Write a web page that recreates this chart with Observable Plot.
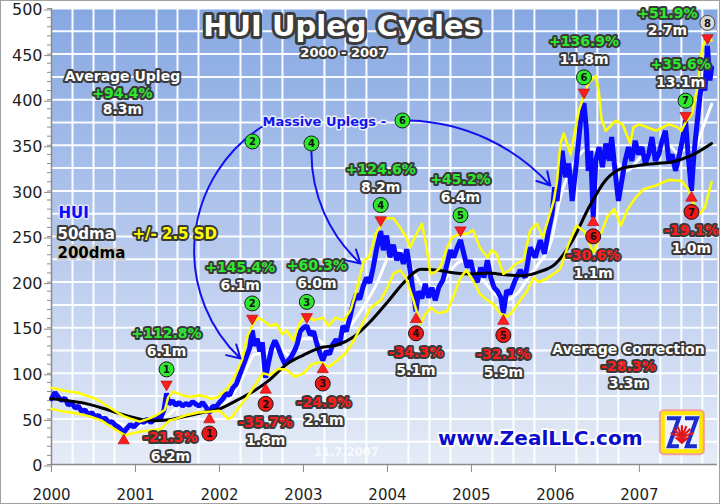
<!DOCTYPE html>
<html><head><meta charset="utf-8">
<script src="https://cdn.jsdelivr.net/npm/d3@7"></script>
<script src="https://cdn.jsdelivr.net/npm/@observablehq/plot@0.6"></script>
<style>
body{margin:0;background:#fff}
#chart{width:720px;height:504px;outline:1px solid #a0a0a0;outline-offset:-1px;overflow:hidden}
</style>
</head><body><div id="chart"></div>
<script>
// ---------------- DATA ----------------
const huiDates = [2000.00,2000.04,2000.08,2000.12,2000.16,2000.20,2000.24,2000.28,2000.32,2000.36,2000.40,2000.44,2000.48,2000.52,2000.56,2000.60,2000.64,2000.68,2000.72,2000.76,2000.80,2000.84,2000.86,2000.90,2000.94,2000.98,
2001.02,2001.06,2001.10,2001.14,2001.18,2001.22,2001.26,2001.30,2001.34,2001.37,2001.40,2001.44,2001.48,2001.52,2001.56,2001.60,2001.64,2001.68,2001.72,2001.76,2001.80,2001.84,2001.88,2001.92,2001.96,
2002.00,2002.04,2002.08,2002.12,2002.16,2002.20,2002.24,2002.28,2002.32,2002.36,2002.39,2002.42,2002.45,2002.48,2002.51,2002.55,2002.58,2002.62,2002.66,2002.70,2002.74,2002.78,2002.82,2002.86,2002.90,2002.93,2002.96,
2003.00,2003.04,2003.08,2003.12,2003.16,2003.20,2003.23,2003.27,2003.31,2003.35,2003.39,2003.43,2003.47,2003.51,2003.55,2003.59,2003.63,2003.67,2003.71,2003.75,2003.79,2003.83,2003.87,2003.92,2003.95,2003.99,
2004.03,2004.07,2004.11,2004.15,2004.19,2004.23,2004.27,2004.30,2004.34,2004.37,2004.41,2004.45,2004.49,2004.53,2004.57,2004.61,2004.66,2004.71,2004.75,2004.79,2004.83,2004.87,2004.91,2004.95,2004.99,
2005.03,2005.07,2005.11,2005.15,2005.19,2005.23,2005.27,2005.31,2005.35,2005.38,2005.42,2005.46,2005.52,2005.58,2005.64,2005.70,2005.76,2005.82,2005.87,2005.92,2005.96,2005.99,
2006.02,2006.05,2006.08,2006.12,2006.16,2006.20,2006.24,2006.28,2006.31,2006.34,2006.37,2006.39,2006.42,2006.45,2006.48,2006.52,2006.56,2006.60,2006.64,2006.67,2006.71,2006.75,2006.79,2006.83,2006.87,2006.91,2006.95,2006.99,
2007.03,2007.07,2007.11,2007.15,2007.19,2007.23,2007.27,2007.31,2007.35,2007.39,2007.43,2007.47,2007.51,2007.55,2007.58,2007.62,2007.65,2007.69,2007.72,2007.75,2007.78,2007.81,2007.84,2007.86];
const huiValues = [72,79,74,70,73,65,68,62,64,58,60,54,57,52,54,49,51,46,47,43,41,37,35,40,44,41,
45,48,46,50,46,49,52,51,60,78,66,70,65,68,64,67,65,69,66,64,68,63,57,64,63,
68,72,78,76,84,88,98,108,118,128,147,130,138,124,134,95,110,127,136,128,118,110,114,119,126,133,146,
150,152,142,146,132,121,114,124,121,132,137,131,152,146,160,176,187,181,195,205,199,216,236,256,235,251,
227,241,224,232,220,236,213,194,168,190,182,198,183,194,180,194,202,220,235,227,238,246,231,216,224,
208,200,216,205,224,205,194,190,183,166,191,187,202,213,205,238,227,246,231,257,275,304,
289,315,344,315,330,289,322,359,388,396,366,322,344,271,333,348,326,352,333,359,322,289,311,333,348,333,355,340,
348,330,340,359,333,340,355,366,333,340,322,337,355,377,340,300,341,377,403,421,410,459,421,435];

const dma50Dates = [2000.00,2000.15,2000.30,2000.45,2000.60,2000.75,2000.90,2001.00,2001.10,2001.25,2001.40,2001.50,2001.65,2001.80,2001.95,2002.05,2002.15,2002.30,2002.42,2002.55,2002.70,2002.85,2003.00,2003.15,2003.30,2003.48,2003.68,2003.88,2003.98,2004.05,2004.15,2004.25,2004.35,2004.45,2004.60,2004.75,2004.85,2004.95,2005.10,2005.25,2005.40,2005.55,2005.70,2005.80,2005.95,2006.05,2006.15,2006.25,2006.35,2006.45,2006.55,2006.65,2006.75,2006.85,2006.95,2007.05,2007.15,2007.25,2007.35,2007.45,2007.55,2007.65,2007.75,2007.86];
const dma50Values = [72,73,67,60,54,48,42,41,44,48,55,63,66,66,63,66,75,100,121,122,128,118,138,138,128,143,168,200,222,235,235,222,205,194,194,212,222,224,207,190,180,188,208,220,245,290,318,335,345,346,336,334,330,322,330,340,342,345,350,342,345,345,368,395];

const dma200Dates = [2000.0,2000.2,2000.4,2000.6,2000.8,2001.0,2001.2,2001.4,2001.6,2001.8,2002.0,2002.2,2002.4,2002.6,2002.8,2003.0,2003.2,2003.4,2003.6,2003.8,2004.0,2004.2,2004.4,2004.6,2004.8,2005.0,2005.2,2005.4,2005.6,2005.8,2006.0,2006.2,2006.4,2006.6,2006.8,2007.0,2007.2,2007.4,2007.6,2007.86];
const dma200Values = [72,70,67,62,56,51,48,49,53,57,61,70,80,93,110,120,128,131,140,157,178,200,214,213,210,209,210,208,207,211,220,245,282,312,325,328,330,332,338,352];

const upperDates = [2000.00,2000.10,2000.20,2000.30,2000.40,2000.50,2000.60,2000.70,2000.80,2000.86,2000.95,2001.05,2001.15,2001.25,2001.35,2001.39,2001.45,2001.55,2001.65,2001.75,2001.85,2001.90,2001.98,2002.10,2002.20,2002.27,2002.33,2002.39,2002.45,2002.52,2002.60,2002.68,2002.75,2002.80,2002.88,2002.95,2003.04,2003.12,2003.23,2003.30,2003.38,2003.48,2003.56,2003.64,2003.72,2003.78,2003.86,2003.92,2003.97,2004.07,2004.15,2004.22,2004.27,2004.33,2004.41,2004.46,2004.51,2004.57,2004.63,2004.71,2004.77,2004.87,2004.95,2005.02,2005.10,2005.19,2005.24,2005.30,2005.38,2005.45,2005.53,2005.62,2005.70,2005.78,2005.85,2005.90,2005.98,2006.02,2006.06,2006.10,2006.18,2006.28,2006.39,2006.48,2006.52,2006.55,2006.60,2006.72,2006.80,2006.89,2006.93,2007.00,2007.20,2007.28,2007.35,2007.45,2007.50,2007.56,2007.63,2007.69,2007.75,2007.82,2007.86];
const upperValues = [84,82,80,79,76,73,68,62,56,53,50,47,50,54,60,74,80,76,74,76,74,72,74,84,100,115,140,152,161,158,152,154,143,147,136,154,165,158,161,152,161,158,169,194,224,227,253,262,270,270,260,250,238,250,264,242,209,211,216,238,249,253,253,257,238,227,235,231,209,213,220,224,257,264,249,264,289,311,352,363,340,388,418,426,407,378,366,377,373,352,370,373,366,370,373,370,366,377,385,414,458,470,465];

const lowerDates = [2000.00,2000.15,2000.30,2000.45,2000.60,2000.70,2000.80,2000.88,2000.95,2001.05,2001.15,2001.25,2001.32,2001.40,2001.48,2001.60,2001.75,2001.90,2002.00,2002.05,2002.10,2002.15,2002.25,2002.33,2002.43,2002.52,2002.60,2002.70,2002.80,2002.90,2003.00,2003.10,2003.20,2003.30,2003.40,2003.50,2003.60,2003.70,2003.80,2003.92,2004.00,2004.07,2004.15,2004.22,2004.31,2004.39,2004.45,2004.52,2004.60,2004.71,2004.78,2004.87,2004.94,2005.02,2005.10,2005.19,2005.26,2005.35,2005.43,2005.50,2005.58,2005.66,2005.74,2005.80,2005.88,2005.98,2006.06,2006.15,2006.25,2006.35,2006.45,2006.55,2006.62,2006.70,2006.78,2006.86,2006.95,2007.05,2007.20,2007.35,2007.50,2007.58,2007.65,2007.72,2007.78,2007.86];
const lowerValues = [61,58,56,53,48,42,36,32,34,36,37,38,40,48,50,54,57,58,59,55,50,52,65,74,88,100,98,105,104,96,100,110,112,107,114,122,136,154,172,180,194,209,213,205,180,154,165,172,166,168,183,205,213,202,187,180,176,165,162,169,180,190,205,200,203,209,215,240,262,255,232,255,272,280,262,280,292,302,306,312,311,302,285,275,282,310];

// cycle turning points
const peakDates  = [2001.37, 2002.39, 2003.04, 2003.92, 2004.87, 2006.34, 2007.55, 2007.81];
const peakLevels = [78, 147, 152, 256, 246, 396, 377, 459];
const peakGains  = ["+112.8%", "+145.4%", "+60.3%", "+124.6%", "+45.2%", "+136.9%", "+35.6%", "+51.9%"];
const peakSpans  = ["6.1m", "6.1m", "6.0m", "8.2m", "6.4m", "11.8m", "13.1m", "2.7m"];
const troughDates  = [2001.88, 2002.55, 2003.23, 2004.34, 2005.38, 2006.45, 2007.62];
const troughLevels = [57, 95, 114, 168, 166, 271, 300];
const troughLosses = ["-21.3%", "-35.7%", "-24.9%", "-34.3%", "-32.1%", "-30.6%", "-19.1%"];
const troughSpans  = ["6.2m", "1.8m", "2.1m", "5.1m", "5.9m", "1.1m", "1.0m"];
const startLowDate = 2000.86, startLowLevel = 35;

const yearTicks = [2000, 2001, 2002, 2003, 2004, 2005, 2006, 2007];
const yTicks = [0, 50, 100, 150, 200, 250, 300, 350, 400, 450, 500];
const avgUpleg = ["Average Upleg", "+94.4%", "8.3m"];
const avgCorrection = ["Average Correction", "-28.3%", "3.3m"];

// ---------------- BUILD ----------------
const rows = (ds, vs) => ds.map((t, i) => ({t, v: vs[i]}));
const hui = rows(huiDates, huiValues);
const d50 = rows(dma50Dates, dma50Values);
const d200 = rows(dma200Dates, dma200Values);
const up = rows(upperDates, upperValues);
const lo = rows(lowerDates, lowerValues);
const quarterTicks = d3.range(2000.25, 2008, 0.25).filter(d => d % 1 !== 0);
const gridYTicks = d3.range(25, 501, 25);
const minorY = d3.range(0, 501, 10);

const F = "'DejaVu Sans', Verdana, sans-serif";
const DARK = "#3a3a3a";
const GREEN = "#2ee82e", RED = "#ff1c1c";
const lbl = (fill, size = 14, stroke = DARK, sw = 4) =>
  ({fill, stroke, strokeWidth: sw, strokeLinejoin: "round", fontWeight: "bold", fontSize: size, fontFamily: F});

const marks = [
  Plot.frame({fill: "url(#bgGrad)", stroke: null}),
  Plot.gridX(quarterTicks, {stroke: "white", strokeOpacity: 0.95, strokeWidth: 2}),
  Plot.gridY(gridYTicks, {stroke: "white", strokeOpacity: 0.95, strokeWidth: 2}),
  Plot.ruleX([2000], {stroke: "#8c8c8c", strokeWidth: 1.5}),
  Plot.ruleY([0], {stroke: "#8c8c8c", strokeWidth: 1.5}),
  Plot.axisY(minorY, {tickSize: 4, stroke: "#8c8c8c", tickFormat: () => ""}),
  Plot.axisY(yTicks, {tickSize: 7, tickPadding: 2, dy: 1.5, stroke: "#8c8c8c", fill: "#1e1e1e", fontSize: 16, fontFamily: F, tickFormat: d => String(d)}),
  Plot.axisX(yearTicks, {tickSize: 8, tickPadding: 17, stroke: "#8c8c8c", fill: "#1e1e1e", fontSize: 15, fontFamily: F, tickFormat: d => String(d)}),
  Plot.line(d50, {x: "t", y: "v", stroke: "white", strokeWidth: 3, curve: "monotone-x"}),
  Plot.line(hui, {x: "t", y: "v", stroke: "#0a0aff", strokeWidth: 5, strokeLinejoin: "miter"}),
  Plot.line(d200, {x: "t", y: "v", stroke: "black", strokeWidth: 3, curve: "monotone-x"}),
  Plot.line(up, {x: "t", y: "v", stroke: "#ffff00", strokeWidth: 2.5}),
  Plot.line(lo, {x: "t", y: "v", stroke: "#ffff00", strokeWidth: 2.5}),
  // watermark date
  Plot.text(["11.7.2007"], {x: () => 2003.51, y: () => 13, text: d => d, fill: "white", fillOpacity: 0.75, fontSize: 11.5, fontWeight: "bold", fontFamily: F}),
];

// peaks: stacked labels above each peak (layout offsets in px)
const peakLayout = [
  {dx: 0, s: 2}, {dx: -12, s: -1}, {dx: 10, s: 2}, {dx: 0, s: 0},
  {dx: 0, s: 1}, {dx: 0, s: 0}, {dx: -5, s: 6}, {dx: -40, s: 0, gainDy: -32, spanDy: -15, arrowDy: -8, circDy: -23}
];
peakDates.forEach((t, i) => {
  const L = peakLayout[i];
  const d = [{t, v: peakLevels[i], n: String(i + 1), gain: peakGains[i], span: peakSpans[i]}];
  const aDy = L.arrowDy ?? (-11 + L.s), cDy = L.circDy ?? (-26 + L.s);
  const sDy = L.spanDy ?? (-44 + L.s), gDy = L.gainDy ?? (-62 + L.s);
  const last = i === 7;
  marks.push(
    Plot.dot(d, {x: "t", y: "v", dy: aDy, symbol: "triangle", r: 4.2, rotate: 180, fill: RED, stroke: "#a00", strokeWidth: 0.6}),
    Plot.dot(d, {x: "t", y: "v", dy: cDy, r: 7.5, fill: last ? "#d8d8d8" : GREEN, stroke: last ? "#444" : "#1a1a1a", strokeWidth: 1}),
    Plot.text(d, {x: "t", y: "v", dy: cDy + 0.5, text: "n", fill: "#111", fontSize: 10, fontWeight: "bold", fontFamily: F}),
    Plot.text(d, {x: "t", y: "v", dx: L.dx, dy: sDy, text: "span", ...lbl("white")}),
    Plot.text(d, {x: "t", y: "v", dx: L.dx, dy: gDy, text: "gain", ...lbl(GREEN)})
  );
});

// troughs: stacked labels below each trough
const troughLayout = [
  {dx: -39, s: -2, lossDy: 25, spanDy: 44}, {dx: 0, s: 3}, {dx: 1, s: 0}, {dx: 0, s: -1},
  {dx: 0, s: -1}, {dx: 0, s: -4}, {dx: 0, s: -2}
];
troughDates.forEach((t, i) => {
  const L = troughLayout[i];
  const d = [{t, v: troughLevels[i], n: String(i + 1), loss: troughLosses[i], span: troughSpans[i]}];
  const aDy = 9 + L.s, cDy = 23 + L.s;
  const lDy = L.lossDy ?? (42 + L.s), sDy = L.spanDy ?? (60 + L.s);
  marks.push(
    Plot.dot(d, {x: "t", y: "v", dy: aDy, symbol: "triangle", r: 4.2, fill: RED, stroke: "#a00", strokeWidth: 0.6}),
    Plot.dot(d, {x: "t", y: "v", dy: cDy, r: 7.5, fill: "#ee1515", stroke: "#1a1a1a", strokeWidth: 1}),
    Plot.text(d, {x: "t", y: "v", dy: cDy + 0.5, text: "n", fill: "#111", fontSize: 10, fontWeight: "bold", fontFamily: F}),
    Plot.text(d, {x: "t", y: "v", dx: L.dx, dy: lDy, text: "loss", ...lbl(RED)}),
    Plot.text(d, {x: "t", y: "v", dx: L.dx, dy: sDy, text: "span", ...lbl("white")})
  );
});
marks.push(Plot.dot([{t: startLowDate, v: startLowLevel}], {x: "t", y: "v", dy: 8, symbol: "triangle", r: 4.2, fill: RED, stroke: "#a00", strokeWidth: 0.6}));

// "Massive Uplegs" callouts
const arrows = [
  {t1: 2002.51, v1: 370.6, t2: 2002.25, v2: 116.2, bend: -52},
  {t1: 2003.095, v1: 343, t2: 2003.679, v2: 220.4, bend: -24},
  {t1: 2004.27, v1: 377.2, t2: 2005.94, v2: 305.9, bend: 23}
];
arrows.forEach(a => marks.push(Plot.arrow([a], {x1: "t1", y1: "v1", x2: "t2", y2: "v2", bend: a.bend, stroke: "#1212f0", strokeWidth: 2, headLength: 11, insetStart: 0, insetEnd: 0})));
const calloutCircles = [{t: 2002.393, v: 354.2, n: "2"}, {t: 2003.095, v: 352, n: "4"}, {t: 2004.179, v: 377.2, n: "6"}];
marks.push(
  Plot.text(["Massive Uplegs -"], {x: () => 2002.512, y: () => 376.1, text: d => d, textAnchor: "start", ...lbl("#1414ee", 13, "#e8eefa", 3)}),
  Plot.dot(calloutCircles, {x: "t", y: "v", r: 7.5, fill: GREEN, stroke: "#1a1a1a", strokeWidth: 1}),
  Plot.text(calloutCircles, {x: "t", y: "v", dy: 0.5, text: "n", fill: "#111", fontSize: 10, fontWeight: "bold", fontFamily: F})
);

// averages
marks.push(
  Plot.text([avgUpleg[0]], {x: () => 2000.845, y: () => 425.4, text: d => d, ...lbl("white", 14)}),
  Plot.text([avgUpleg[1]], {x: () => 2000.845, y: () => 406.8, text: d => d, ...lbl(GREEN, 14)}),
  Plot.text([avgUpleg[2]], {x: () => 2000.845, y: () => 389.3, text: d => d, ...lbl("white", 14)}),
  Plot.text([avgCorrection[0]], {x: () => 2006.87, y: () => 126.1, text: d => d, ...lbl("white", 14)}),
  Plot.text([avgCorrection[1]], {x: () => 2006.87, y: () => 107.5, text: d => d, ...lbl(RED, 14)}),
  Plot.text([avgCorrection[2]], {x: () => 2006.87, y: () => 88.8, text: d => d, ...lbl("white", 14)})
);

// legend
marks.push(
  Plot.text(["HUI"], {x: () => 2000.083, y: () => 275.2, text: d => d, textAnchor: "start", ...lbl("#0a0aff", 15, "#dfe8f7", 3)}),
  Plot.text(["50dma"], {x: () => 2000.071, y: () => 252.2, text: d => d, textAnchor: "start", ...lbl("white", 15)}),
  Plot.text(["+/- 2.5 SD"], {x: () => 2000.964, y: () => 252.2, text: d => d, textAnchor: "start", ...lbl("#ffff00", 15)}),
  Plot.text(["200dma"], {x: () => 2000.071, y: () => 231.4, text: d => d, textAnchor: "start", ...lbl("#000", 15, "#c8c8c8", 4)})
);

// title + site
marks.push(
  Plot.text(["HUI Upleg Cycles"], {x: () => 2003.46, y: () => 479.5, text: d => d, ...lbl("white", 29, "#3c3c3c", 6)}),
  Plot.text(["2000 - 2007"], {x: () => 2003.48, y: () => 451.5, text: d => d, ...lbl("white", 13, "#3c3c3c", 4)}),
  Plot.text(["www.ZealLLC.com"], {x: () => 2005.82, y: () => 28.5, text: d => d, ...lbl("#0c0ccc", 20, "white", 4)})
);

const chart = Plot.plot({
  width: 720, height: 504,
  marginLeft: 51, marginRight: 3, marginTop: 8, marginBottom: 40,
  style: {fontFamily: F, background: "white", overflow: "visible"},
  x: {domain: [2000, 2007.93], axis: null},
  y: {domain: [0, 500], axis: null},
  marks
});

// background gradient
const svg = d3.select(chart);
const defs = svg.insert("defs", ":first-child");
const grad = defs.append("linearGradient").attr("id", "bgGrad").attr("x1", 0).attr("y1", 0).attr("x2", 0).attr("y2", 1);
grad.append("stop").attr("offset", "0%").attr("stop-color", "#86a8e2");
grad.append("stop").attr("offset", "55%").attr("stop-color", "#b9cbee");
grad.append("stop").attr("offset", "100%").attr("stop-color", "#e6ecf7");

// Zeal logo (decoration)
const sx = chart.scale("x"), sy = chart.scale("y");
const lg = svg.append("g").attr("transform", `translate(${sx.apply(2007.25)},${sy.apply(59)})`);
lg.append("rect").attr("width", 44).attr("height", 44).attr("rx", 4).attr("fill", "#ffe800").attr("stroke", "#f2a0a0").attr("stroke-width", 2);
lg.append("rect").attr("x", 5).attr("y", 5).attr("width", 34).attr("height", 34).attr("fill", "#eef2ff");
lg.append("path").attr("d", "M7,8H19L9,36H19M25,8H37L27,36H37").attr("fill", "none").attr("stroke", "#1a2ccc").attr("stroke-width", 4);
[-160, -135, -112, -90, -68, -45, -20].forEach(a => {
  const r = a * Math.PI / 180;
  lg.append("line").attr("x1", 22).attr("y1", 27).attr("x2", 22 + 12 * Math.cos(r)).attr("y2", 27 + 12 * Math.sin(r)).attr("stroke", "#e0181c").attr("stroke-width", 2.2);
});
lg.append("path").attr("d", "M14,27H30L22,34Z").attr("fill", "#e0181c");

document.getElementById("chart").appendChild(chart);
</script></body></html>
